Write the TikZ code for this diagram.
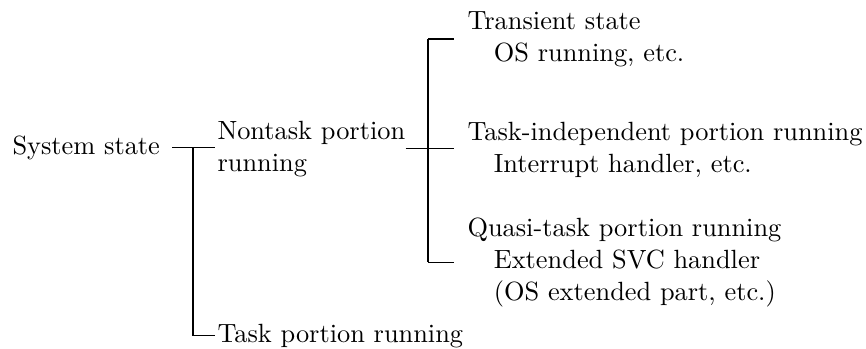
\documentclass[tikz,border=0pt]{standalone}
\begin{document}
\begin{tikzpicture}[x=0.013337cm, y=-0.013337cm,
    txt/.style={inner sep=0pt, anchor=base west, align=left},
    tick/.style={shorten >=5pt}]

    \useasboundingbox (0,0) rectangle (866,349);

    % multi-line nodes sit on the baseline of their last line
    \node[txt] (sys) at (12,154) {System state};
    \node[txt] (nontask) at (217,171) {Nontask portion\\running};
    \node[txt] (task) at (217,342) {Task portion running};

    \node[txt] (transient) at (467,61) {Transient state\\\hspace*{1em}OS running, etc.};
    \node[txt] (indep) at (467,172) {Task-independent portion running\\\hspace*{1em}Interrupt handler, etc.};
    \node[txt] (quasi) at (467,300) {Quasi-task portion running\\\hspace*{1em}Extended SVC handler\\\hspace*{1em}(OS extended part, etc.)};

    \coordinate (fork1) at (193,148);
    \coordinate (fork2) at (428,148);

    \draw[shorten <=4.5pt, shorten >=0.75pt] (sys.east) -- (sys.east -| nontask.west);
    \draw[shorten >=0.75pt] (fork1) |- (task.west);

    \draw[tick] (nontask.east) -- (nontask.east -| indep.west);
    \draw (fork2 |- transient.west) -- (fork2 |- quasi.west);
    \foreach \n in {transient,quasi}
        \draw[tick] (fork2 |- \n.west) -- (\n.west);

\end{tikzpicture}
\end{document}
